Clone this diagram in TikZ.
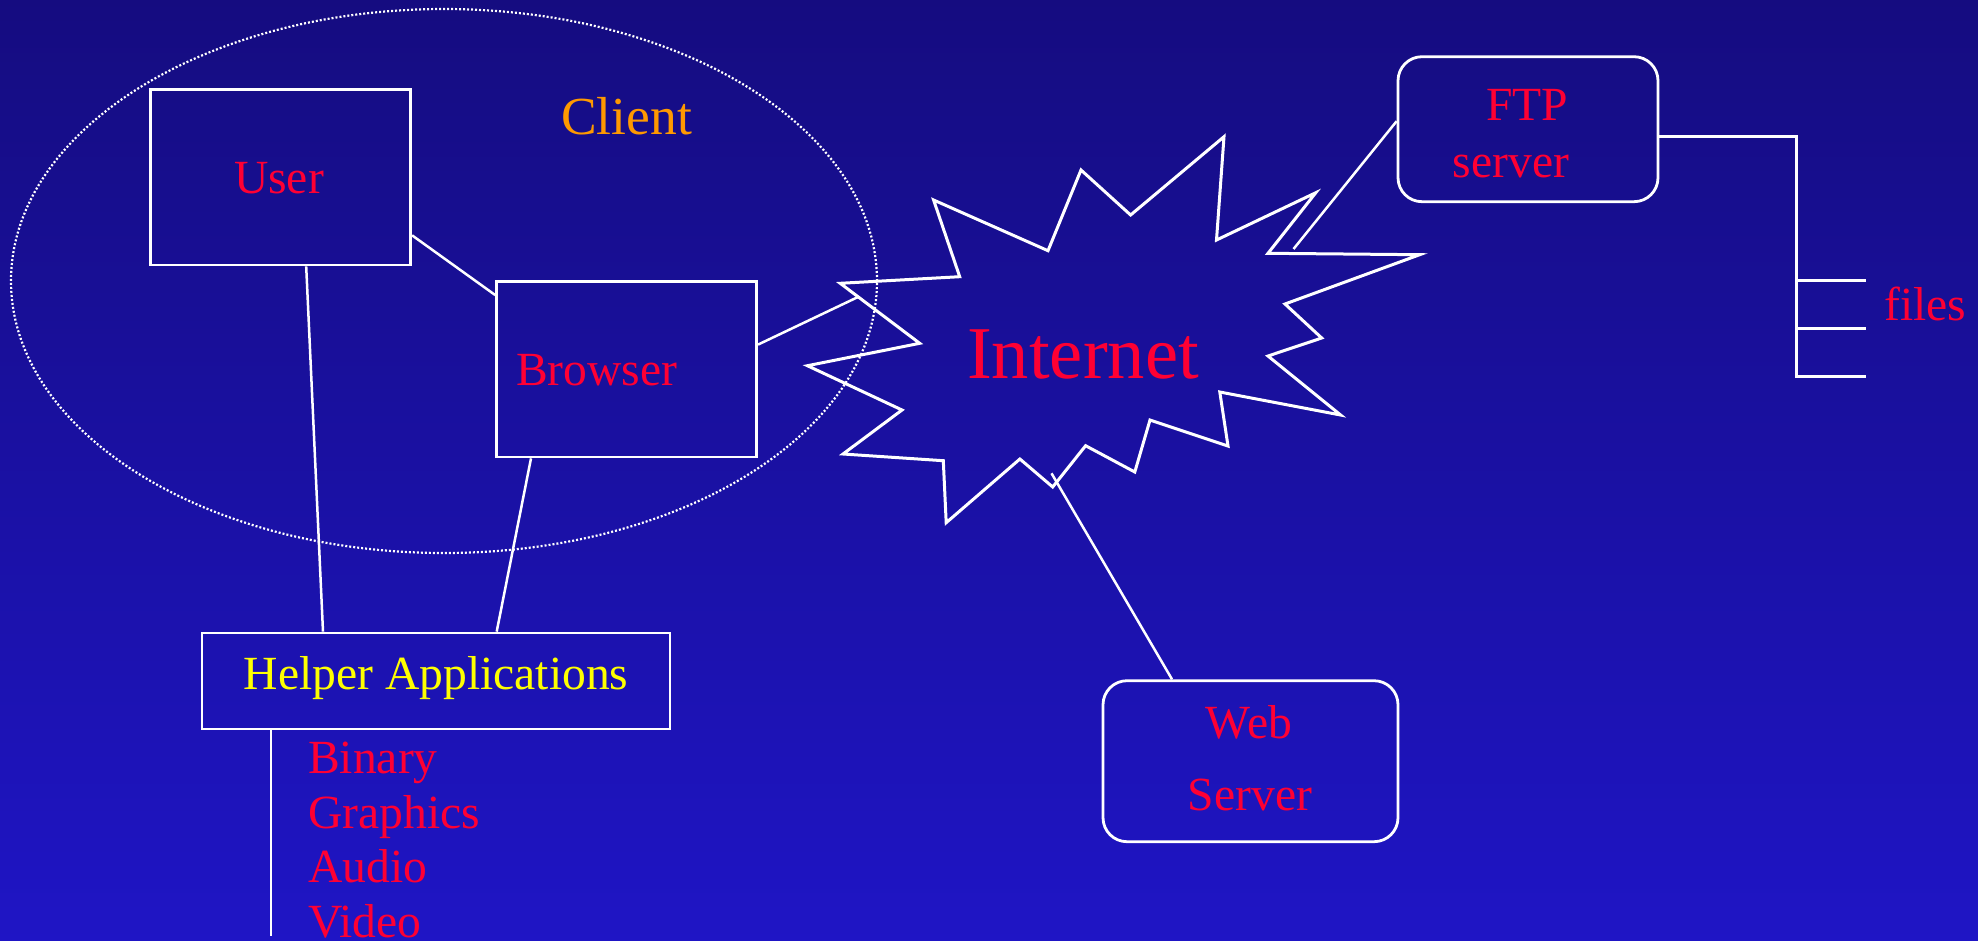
\documentclass[tikz,border=0pt]{standalone}
\usepackage{fontspec}
\setmainfont{Liberation Serif}
\usetikzlibrary{shapes.geometric,calc}
\definecolor{bgtop}{RGB}{21,12,128}
\definecolor{bgbot}{RGB}{31,21,197}
\definecolor{txtred}{RGB}{255,0,51}
\definecolor{txtorange}{RGB}{255,153,0}
\definecolor{txtyellow}{RGB}{255,255,0}
\tikzset{
  boxnode/.style={draw=white, line width=2.8pt, rectangle, inner sep=0pt},
  roundbox/.style={draw=white, line width=2.8pt, rectangle, rounded corners=24pt, inner sep=0pt},
  conn/.style={draw=white, line width=2.5pt},
  lbl/.style={inner sep=0pt, text=txtred, font=\fontsize{47.6}{56}\selectfont},
  starline/.style={draw=white, line width=3pt, line join=miter},
}
\begin{document}
\begin{tikzpicture}[x=1pt,y=-1pt]
\useasboundingbox (0,0) rectangle (1978,940);
\shade[top color=bgtop, bottom color=bgbot] (0,0) rectangle (1978,940);

% client ellipse
\node[ellipse, draw=white, line width=2.2pt, dash pattern=on 2pt off 2pt, minimum width=866pt, minimum height=544pt, inner sep=0pt] (client) at (444,281) {};
\node[lbl, text=txtorange, anchor=base, font=\fontsize{53.5}{60}\selectfont] (clienttext) at (626.5,134) {Client};

% boxes
\node[boxnode, minimum width=260pt, minimum height=175.5pt] (user) at (280.7,177.2) {};
\node[lbl, anchor=base] (usertext) at (279,193) {User};
\node[boxnode, minimum width=260pt, minimum height=175.5pt] (browser) at (626.6,369.2) {};
\node[lbl, anchor=base west] (browsertext) at (516,385) {Browser};
\node[boxnode, minimum width=468pt, minimum height=96pt] (helper) at (436,681) {};
\node[lbl, anchor=base, text=txtyellow] (helpertext) at (436,689.3) {Helper Applications};

\node[lbl, anchor=base west] (binary) at (308,773) {Binary};
\node[lbl, anchor=base west] (graphics) at (308,828.7) {Graphics};
\node[lbl, anchor=base west] (audio) at (308,882.7) {Audio};
\node[lbl, anchor=base west] (video) at (308,937.3) {Video};

\node[roundbox, minimum width=260pt, minimum height=145pt] (ftp) at (1528,129.2) {};
\node[lbl, anchor=base] (ftptext) at (1527,120) {FTP};
\node[lbl, anchor=base] (servertext) at (1511,177.7) {server};
\node[lbl, anchor=base west] (files) at (1884,320.7) {files};

\node[roundbox, minimum width=295pt, minimum height=161pt] (web) at (1250.5,761.2) {};
\node[lbl, anchor=base] (webtext) at (1249,738.3) {Web};
\node[lbl, anchor=base] (webservertext) at (1250,810.7) {Server};

% internet star
\draw[starline] (933.6,200) -- (1048,250.7) -- (1081,170) -- (1130.6,215) -- (1224,136.7)
  -- (1216.5,240) -- (1315.8,192.7) -- (1268,253.3) -- (1419.7,254.7) -- (1285,304)
  -- (1321.7,338) -- (1268,356) -- (1340.6,415) -- (1219.8,392) -- (1228,446)
  -- (1150,420) -- (1134.8,472) -- (1085.6,445.7) -- (1052.7,487) -- (1019.9,459)
  -- (946.2,522.7) -- (943.3,460.7) -- (843,454) -- (902,410) -- (807.4,365.7)
  -- (919.7,343.3) -- (840.2,283.3) -- (959.7,276.7) -- cycle;
\node[lbl, anchor=base, font=\fontsize{74.5}{80}\selectfont] (internet) at (1083,378) {Internet};

% connector end points
\coordinate (bi) at (858,297);
\coordinate (iw) at (1051.5,473.3);
\coordinate (ifp) at (1293.5,249);
\coordinate (hb) at (271,936);
\coordinate (fb) at (1796.5,376.7);
\coordinate (f1) at (1865.5,280.7);
\coordinate (f2) at (1865.5,328.7);
\coordinate (f3) at (1865.5,376.7);

% connectors
\draw[conn] ([shift={(0,-31)}]user.south east) -- ([shift={(0,15)}]browser.north west);
\draw[conn] ([shift={(25.5,0)}]user.south) -- ([shift={(-113,0)}]helper.north);
\draw[conn] ([shift={(-95.6,0)}]browser.south) -- ([shift={(60.7,0)}]helper.north);
\draw[conn] ([shift={(-165,0)}]helper.south) -- (hb);
\draw[conn] ([shift={(0,-24.6)}]browser.east) -- (bi);
\draw[conn] (iw) -- ([shift={(-78.5,0)}]web.north);
\draw[conn] (ifp) -- ([shift={(0,-8)}]ftp.west);
\draw[conn, line width=3pt] ([shift={(0,7.5)}]ftp.east) -| (fb) -- (f3);
\draw[conn, line width=3pt] (f1 -| fb) -- (f1);
\draw[conn, line width=3pt] (f2 -| fb) -- (f2);
\end{tikzpicture}
\end{document}
